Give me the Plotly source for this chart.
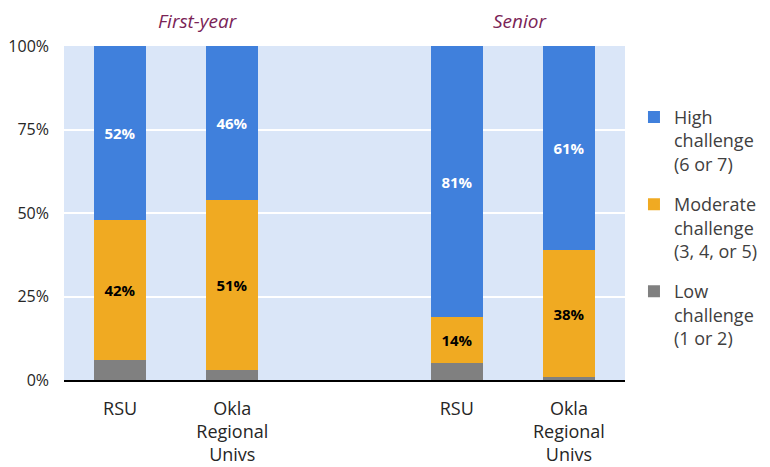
import plotly.graph_objects as go

categories = ["RSU", "Okla<br>Regional<br>Univs", "RSU", "Okla<br>Regional<br>Univs"]
positions = [0, 1, 3, 4]
groups = ["First-year", "Senior"]
low = [6, 3, 5, 1]
moderate = [42, 51, 14, 38]
high = [52, 46, 81, 61]
series_names = ["Low<br>challenge<br>(1 or 2)", "Moderate<br>challenge<br>(3, 4, or 5)", "High<br>challenge<br>(6 or 7)"]
colors = ["#808080", "#F0AA22", "#4080DC"]

fig = go.Figure()
fig.add_trace(go.Bar(x=positions, y=low, name=series_names[0], marker_color=colors[0],
                     width=0.46, hoverinfo="y", legendgroup="low", legendrank=3))
fig.add_trace(go.Bar(x=positions, y=moderate, name=series_names[1], marker_color=colors[1],
                     width=0.46, text=[f"{v}%" for v in moderate], textposition="inside",
                     insidetextanchor="middle", legendgroup="mod", legendrank=2,
                     textfont=dict(color="black", size=15, family="Open Sans"), texttemplate="<b>%{text}</b>"))
fig.add_trace(go.Bar(x=positions, y=high, name=series_names[2], marker_color=colors[2],
                     width=0.46, text=[f"{v}%" for v in high], textposition="inside",
                     insidetextanchor="middle", legendgroup="high", legendrank=1,
                     textfont=dict(color="white", size=15, family="Open Sans"), texttemplate="<b>%{text}</b>"))

fig.update_traces(marker_line_width=0)

fig.add_annotation(x=0.239, y=1.0, xref="paper", yref="paper", yshift=25, text="<i>" + groups[0] + "</i>",
                   xanchor="center", yanchor="middle",
                   showarrow=False, font=dict(size=19, color="#7A2356", family="Open Sans"))
fig.add_annotation(x=0.813, y=1.0, xref="paper", yref="paper", yshift=25, text="<i>" + groups[1] + "</i>",
                   xanchor="center", yanchor="middle",
                   showarrow=False, font=dict(size=19, color="#7A2356", family="Open Sans"))

fig.update_layout(
    barmode="stack",
    width=770, height=467,
    margin=dict(l=56, r=153, t=38, b=95, autoexpand=False),
    paper_bgcolor="white",
    plot_bgcolor="#DAE6F8",
    font=dict(family="Open Sans", size=15, color="#262626"),
    bargap=0,
    showlegend=True,
    legend=dict(x=1.016, y=0.842, yanchor="top", xanchor="left", traceorder="grouped", valign="top",
                font=dict(size=18, color="#404040"), tracegroupgap=14, itemwidth=30),
    xaxis=dict(range=[-0.5, 4.5], tickvals=positions, ticktext=categories, showgrid=False,
               zeroline=False, showline=True, linecolor="black", linewidth=2, ticks="",
               ticklabelstandoff=11, tickfont=dict(size=18, color="#262626")),
    yaxis=dict(range=[0, 100], tickvals=[0, 25, 50, 75, 100], ticktext=["0%", "25%", "50%", "75%", "100%"],
               showgrid=True, gridcolor="white", gridwidth=2, zeroline=False, ticklabelstandoff=14,
               tickfont=dict(size=16, color="#262626")),
)

fig.write_html("out.html")
